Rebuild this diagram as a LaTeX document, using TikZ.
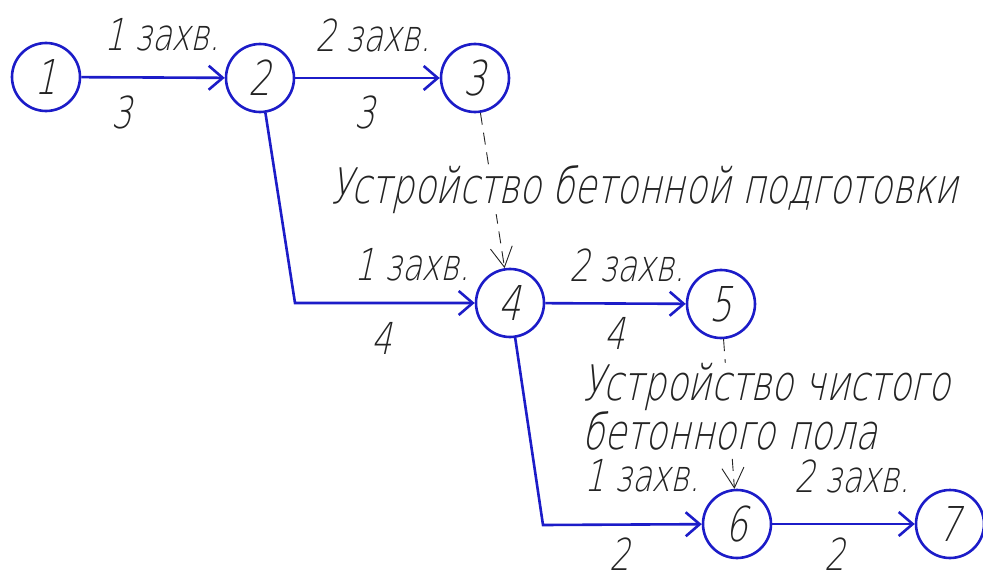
\documentclass[tikz,border=0pt]{standalone}
\usepackage{fontspec}
\setmainfont{DejaVu Sans ExtraLight}[FakeSlant=0.22, FakeStretch=0.73]
\usetikzlibrary{arrows.meta,positioning}
\definecolor{netblue}{RGB}{28, 28, 200}
\definecolor{inkgray}{RGB}{35, 35, 35}

\begin{document}
\begin{tikzpicture}[x=1pt, y=-1pt]
    \tikzstyle{evt} = [circle, draw=netblue, line width=2.6pt, minimum size=68pt, inner sep=0pt, text=inkgray, font=\fontsize{48}{48}\selectfont]
    \tikzstyle{work} = [netblue, line width=2.6pt, -{Straight Barb[length=14pt, width=24pt, line width=2.6pt]}]
    \tikzstyle{dummy} = [inkgray, line width=0.9pt, dash pattern=on 12pt off 8pt, -{Straight Barb[length=20pt, width=22pt]}]
    \tikzstyle{lbl} = [text=inkgray, inner sep=1pt, font=\fontsize{44}{44}\selectfont]
    \tikzstyle{note} = [lbl, fill=white, inner sep=0pt, align=left, font=\fontsize{49}{44}\selectfont]

    \useasboundingbox[fill=white] (0,0) rectangle (983,583);

    % events
    \node[evt] (n1) at (46, 77) {1};
    \node[evt] (n2) at (260, 78) {2};
    \node[evt] (n3) at (475, 78) {3};
    \node[evt] (n4) at (510, 303) {4};
    \node[evt] (n5) at (721, 304) {5};
    \node[evt] (n6) at (737, 524) {6};
    \node[evt] (n7) at (950, 524) {7};

    \coordinate (k24) at (295, 303);
    \coordinate (k46) at (543, 525);

    % works
    \draw[work] (n1) -- (n2);
    \draw[work] (n2) -- (n3);
    \draw[work] (n2) -- (k24) -- (n4);
    \draw[work] (n4) -- (n5);
    \draw[work] (n4) -- (k46) -- (n6);
    \draw[work] (n6) -- (n7);

    % dependencies
    \draw[dummy] (n3) -- (n4);
    \draw[dummy] (n5) -- (n6);

    % notes
    \node[note, anchor=west] (d34) at (330, 190) {Устройство бетонной подготовки};
    \node[note, anchor=north west] (d56) at (582, 363) {Устройство чистого\\бетонного пола};

    % labels
    \node[lbl] (a12) at (162, 35) {1 захв.};
    \node[lbl] (b12) at (122, 112) {3};
    \node[lbl] (a23) at (373, 35) {2 захв.};
    \node[lbl] (b23) at (365, 112) {3};
    \node[lbl] (a24) at (412, 265) {1 захв.};
    \node[lbl] (b24) at (382, 338) {4};
    \node[lbl] (a45) at (627, 265) {2 захв.};
    \node[lbl] (b45) at (615, 333) {4};
    \node[lbl] (a46) at (642, 476) {1 захв.};
    \node[lbl] (b46) at (620, 554) {2};
    \node[lbl] (a67) at (852, 476) {2 захв.};
    \node[lbl] (b67) at (835, 554) {2};
\end{tikzpicture}
\end{document}
